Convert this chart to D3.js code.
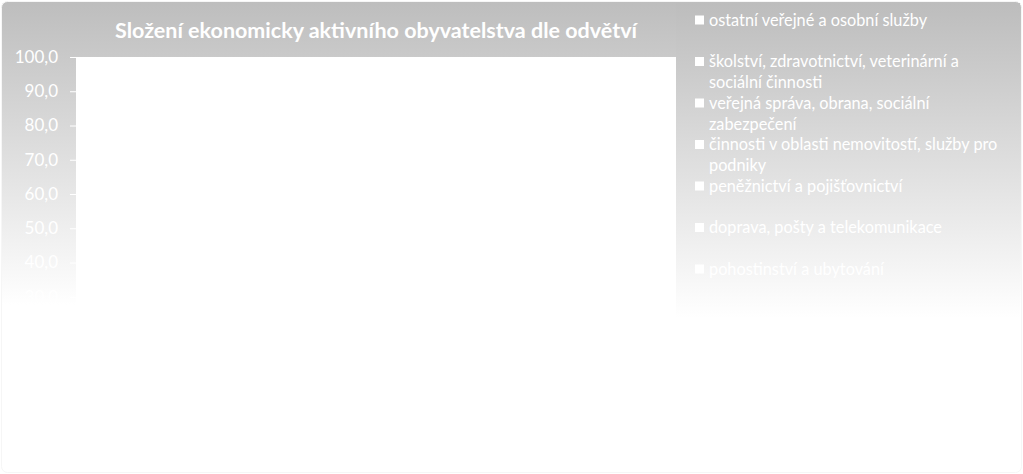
<!DOCTYPE html>
<html>
<head>
<meta charset="utf-8">
<script src="https://cdn.jsdelivr.net/npm/d3@7"></script>
<style>
  html, body { margin: 0; padding: 0; background: #ffffff; }
  svg { display: block; font-family: Lato, "Open Sans", sans-serif; }
</style>
</head>
<body>
<div id="chart"></div>
<script>
// názvy řad (legenda), zalomení řádků podle originálu
const seriesNames = [
  "ostatní veřejné a osobní služby",
  "školství, zdravotnictví, veterinární a\nsociální činnosti",
  "veřejná správa, obrana, sociální\nzabezpečení",
  "činnosti v oblasti nemovitostí, služby pro\npodniky",
  "peněžnictví a pojišťovnictví",
  "doprava, pošty a telekomunikace",
  "pohostinství a ubytování"
];
const seriesColors = ["#ffffff", "#ffffff", "#ffffff", "#ffffff", "#ffffff", "#ffffff", "#ffffff"];
const yTicks = [0, 10, 20, 30, 40, 50, 60, 70, 80, 90, 100];
const titleText = "Složení ekonomicky aktivního obyvatelstva dle odvětví";

const width = 1023, height = 474;
const plot = { left: 76, top: 57, right: 676, bottom: 399.5 };

const svg = d3.select("#chart").append("svg")
  .attr("width", width)
  .attr("height", height);

// gradient pozadí grafu
const defs = svg.append("defs");
const grad = defs.append("linearGradient")
  .attr("id", "bg")
  .attr("gradientUnits", "userSpaceOnUse")
  .attr("x1", 0).attr("y1", 0).attr("x2", 0).attr("y2", 305);
grad.append("stop").attr("offset", "0%").attr("stop-color", "#bdbdbd");
grad.append("stop").attr("offset", "100%").attr("stop-color", "#ffffff");

const gradL = defs.append("linearGradient")
  .attr("id", "bgLegend")
  .attr("gradientUnits", "userSpaceOnUse")
  .attr("x1", 0).attr("y1", 0).attr("x2", 0).attr("y2", 318);
gradL.append("stop").attr("offset", "0%").attr("stop-color", "#bcbcbc");
gradL.append("stop").attr("offset", "100%").attr("stop-color", "#ffffff");

svg.append("rect")
  .attr("x", 1.5).attr("y", 1.5)
  .attr("width", width - 3).attr("height", height - 3)
  .attr("rx", 6)
  .attr("fill", "url(#bg)")
  .attr("stroke", "#f6f6f6");

// legenda - vlastní box
svg.append("rect")
  .attr("x", 676).attr("y", 3)
  .attr("width", 344).attr("height", 318)
  .attr("fill", "url(#bgLegend)");

// plocha grafu
svg.append("rect")
  .attr("x", plot.left).attr("y", plot.top)
  .attr("width", plot.right - plot.left)
  .attr("height", height - 3 - plot.top)
  .attr("fill", "#ffffff");

const y = d3.scaleLinear()
  .domain([0, 100])
  .range([plot.bottom, plot.top]);

const fmt = d => d3.format(".1f")(d).replace(".", ",");

const yAxis = svg.append("g")
  .attr("transform", `translate(${plot.left},0)`)
  .call(d3.axisLeft(y).tickValues(yTicks).tickFormat(fmt).tickSize(6).tickPadding(12));
yAxis.select(".domain").attr("stroke", "#ffffff");
yAxis.selectAll(".tick line").attr("stroke", "#ffffff");
yAxis.selectAll(".tick text")
  .attr("fill", "#ffffff")
  .attr("font-family", "Lato, sans-serif")
  .attr("font-size", "17px");

// titulek
svg.append("text")
  .attr("x", 376)
  .attr("y", 38)
  .attr("text-anchor", "middle")
  .attr("fill", "#ffffff")
  .attr("font-weight", "bold")
  .attr("font-size", "21.5px")
  .text(titleText);

// legenda
const legend = svg.append("g")
  .attr("transform", "translate(695,0)");

const item = legend.selectAll("g")
  .data(seriesNames)
  .enter()
  .append("g")
  .attr("transform", (d, i) => `translate(0,${20 + i * 41.5})`);

item.append("rect")
  .attr("x", 0).attr("y", -4.5)
  .attr("width", 9).attr("height", 9)
  .attr("fill", (d, i) => seriesColors[i]);

item.each(function (d) {
  const lines = d.split("\n");
  const t = d3.select(this).append("text")
    .attr("fill", "#ffffff")
    .attr("font-size", "16.3px");
  lines.forEach((l, j) => {
    t.append("tspan")
      .attr("x", 14)
      .attr("y", j * 21 + 5.5)
      .text(l);
  });
});
</script>
</body>
</html>
